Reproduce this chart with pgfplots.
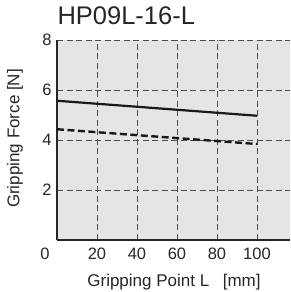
\documentclass[border=0pt]{standalone}
\usepackage{fontspec}
\setmainfont{Liberation Sans}
\usepackage{pgfplots}
\pgfplotsset{compat=1.18}
\definecolor{bgg}{RGB}{229,229,229}
\begin{document}
\begin{tikzpicture}
\begin{axis}[
  at={(57pt,52pt)}, anchor=south west,
  scale only axis, width=233pt, height=200pt,
  xmin=0, xmax=116.5, ymin=0, ymax=8,
  axis x line*=bottom, axis y line*=left,
  axis line style={line width=1.1pt,-,black!85},
  axis background/.style={fill=bgg},
  xtick={20,40,60,80,100}, ytick={2,4,6,8},
  extra x ticks={0}, extra x tick style={grid=none, xticklabel style={xshift=-12pt}},
  major tick length=0pt,
  grid=major,
  major grid style={black!70, line width=0.8pt, dash pattern=on 6pt off 3.5pt},
  /pgf/number format/assume math mode=true,
  tick label style={font=\fontsize{16.5}{16.5}\selectfont, black!85},
  xticklabel style={yshift=-4pt},
  yticklabel style={xshift=-2pt},
  clip=false,
]
\addplot[black!90, line width=2.2pt] coordinates {(0,5.57) (100,4.97)};
\addplot[black!90, line width=2.4pt, dash pattern=on 7pt off 3.5pt] coordinates {(0,4.43) (100,3.84)};
\end{axis}
\node[anchor=west, font=\fontsize{25.5}{25.5}\selectfont, black!85] at (54pt,276pt) {HP09L-16-L};
\node[font=\fontsize{17}{17}\selectfont, black!85] at (174pt,10pt) {Gripping Point L\hspace{0.8em}[mm]};
\node[rotate=90, font=\fontsize{17}{17}\selectfont, black!85] at (15pt,153.5pt) {Gripping Force [N]};
\pgfresetboundingbox
\path (0pt,0pt) rectangle (290pt,292pt);
\end{tikzpicture}
\end{document}
